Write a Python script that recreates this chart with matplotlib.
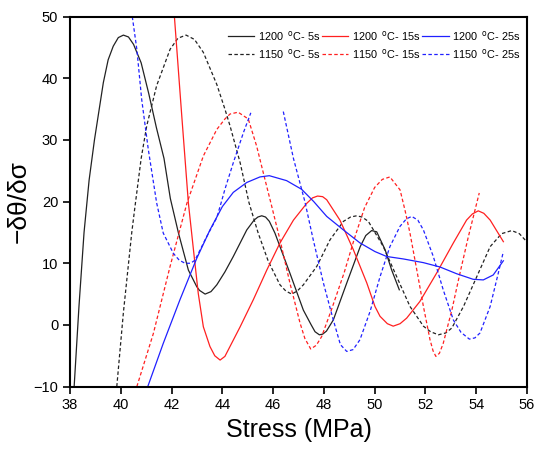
import numpy as np
import matplotlib
matplotlib.use("Agg")
import matplotlib.pyplot as plt

plt.rcParams['font.family'] = ['Liberation Sans', 'DejaVu Sans']

# ---- data ----
x_1200_5 = [38.16, 38.35, 38.55, 38.75, 38.96, 39.31, 39.5, 39.7, 39.9, 40.1, 40.3, 40.5, 40.8, 41.1,
            41.4, 41.7, 41.95, 42.27, 42.66, 42.99, 43.1, 43.32, 43.55, 43.78, 44.1, 44.43, 44.96,
            45.25, 45.4, 45.55, 45.7, 45.85, 46.07, 46.66, 47.19, 47.5, 47.65, 47.82, 47.95, 48.1,
            48.37, 48.9, 49.43, 49.65, 49.88, 50.08, 50.41, 50.67, 50.97]
y_1200_5 = [-10, 3, 15, 23.5, 30, 39.3, 43.0, 45.2, 46.6, 47.0, 46.7, 45.5, 42.5, 37.5,
            32.0, 27.0, 20.5, 14.9, 8.9, 6.2, 5.6, 5.0, 5.4, 6.5, 8.6, 11.1, 15.4,
            17.0, 17.5, 17.7, 17.5, 16.8, 14.9, 8.4, 2.4, 0.0, -1.1, -1.6, -1.5, -1.0,
            0.8, 6.8, 12.7, 14.5, 15.3, 15.1, 12.2, 8.9, 5.7]

x_1150_5 = [39.84, 40.1, 40.43, 40.56, 40.8, 41.02, 41.41, 41.94, 42.25, 42.57, 42.9, 43.25, 43.78,
            44.1, 44.3, 44.7, 45.05, 45.41, 45.81, 46.27, 46.5, 46.73, 46.95, 47.19, 47.72, 48.24,
            48.77, 49.05, 49.29, 49.5, 49.75, 50.34, 50.87, 51.39, 51.92, 52.2, 52.51, 52.8, 53.04,
            53.5, 54.02, 54.55, 55.0, 55.4, 55.7, 55.99]
y_1150_5 = [-10, 2, 15, 19.3, 27, 32.3, 38.8, 44.7, 46.5, 47.0, 46.3, 44.2, 39.0,
            35.0, 32.3, 26.3, 19.8, 14.9, 10.3, 6.5, 5.5, 5.0, 5.5, 6.5, 9.5, 13.8,
            16.8, 17.5, 17.7, 17.5, 16.8, 12.7, 7.8, 3.0, -0.2, -1.1, -1.6, -1.3, -0.5,
            3.0, 7.8, 12.7, 14.8, 15.3, 14.8, 13.5]

x_1200_15 = [42.11, 42.4, 42.66, 42.86, 43.05, 43.25, 43.51, 43.7, 43.91, 44.1, 44.3, 44.7, 45.22,
             45.75, 46.27, 46.8, 47.32, 47.55, 47.75, 47.95, 48.11, 48.63, 49.16, 49.69, 50.01,
             50.21, 50.5, 50.73, 51.0, 51.26, 51.78, 52.44, 53.1, 53.62, 53.85, 54.08, 54.3, 54.55,
             55.07]
y_1200_15 = [50, 33.9, 19.8, 12.2, 5.1, -0.3, -3.5, -5.0, -5.7, -5.1, -3.5, -0.3, 4.1,
             8.9, 13.3, 17.0, 19.7, 20.6, 20.9, 20.8, 20.3, 17.0, 12.2, 6.8, 3.0,
             1.4, 0.2, -0.2, 0.2, 1.1, 3.8, 8.4, 13.3, 17.0, 18.0, 18.5, 18.1, 17.0,
             13.5]

x_1150_15 = [40.63, 41.28, 41.94, 42.6, 43.25, 43.78, 44.1, 44.3, 44.62, 45.02, 45.35, 45.61, 45.94,
             46.27, 46.66, 47.06, 47.25, 47.48, 47.7, 47.91, 48.3, 48.8, 49.2, 49.6, 50.0, 50.3,
             50.6, 51.0, 51.2, 51.39, 51.66, 51.92, 52.18, 52.3, 52.41, 52.55, 52.7, 53.04, 53.36,
             53.69, 54.12]
y_1150_15 = [-10, -1.4, 9.5, 19.7, 27.4, 31.7, 33.4, 34.2, 34.5, 33.4, 29.0, 24.7, 19.3,
             13.8, 6.8, 0.3, -2.2, -3.9, -3.3, -1.9, 2.5, 8.5, 14.0, 19.0, 22.3, 23.6,
             24.0, 21.9, 18.5, 14.9, 8.9, 3.0, -2.4, -4.2, -5.1, -4.6, -3.0, 2.4, 8.4,
             14.3, 21.4]

x_1200_25 = [41.06, 41.67, 42.33, 42.99, 43.51, 44.0, 44.43, 44.96, 45.48, 45.85, 46.53, 47.12, 47.6,
             48.11, 48.77, 49.42, 50.01, 50.47, 51.13, 51.92, 52.57, 53.23, 53.88, 54.28, 54.67, 55.07]
y_1200_25 = [-10, -3.0, 4.1, 10.8, 15.4, 19.2, 21.5, 23.1, 24.0, 24.2, 23.4, 22.0, 20.0,
             17.6, 15.4, 13.3, 11.9, 11.1, 10.7, 10.1, 9.4, 8.3, 7.4, 7.3, 8.1, 10.4]

x_1150_25a = [40.45, 40.63, 40.82, 41.08, 41.41, 41.67, 42.07, 42.3, 42.53, 42.75, 42.92, 43.38, 43.78,
              43.95, 44.1, 44.43, 44.83, 45.12]
y_1150_25a = [50, 44.7, 36.6, 28.5, 19.8, 14.9, 11.6, 10.5, 10.0, 10.0, 10.5, 14.3, 17.4,
              19.8, 22.0, 26.3, 31.2, 34.4]
x_1150_25b = [46.4, 46.8, 47.25, 47.58, 47.98, 48.37, 48.65, 48.9, 49.15, 49.42, 49.82, 50.21, 50.6,
              51.0, 51.25, 51.46, 51.7, 51.92, 52.31, 52.7, 53.1, 53.4, 53.73, 53.95, 54.15, 54.55,
              54.87, 55.07]
y_1150_25b = [34.6, 27.0, 20.0, 13.8, 6.8, 0.8, -3.2, -4.3, -4.0, -2.4, 2.2, 7.8, 12.7,
              16.0, 17.2, 17.6, 17.0, 15.4, 11.1, 5.7, 0.8, -1.2, -2.3, -2.1, -1.3, 3.0,
              8.4, 11.9]

labels = ["1200 $\\,^{\\mathrm{o}}$C- 5s", "1150 $\\,^{\\mathrm{o}}$C- 5s",
          "1200 $\\,^{\\mathrm{o}}$C- 15s", "1150 $\\,^{\\mathrm{o}}$C- 15s",
          "1200 $\\,^{\\mathrm{o}}$C- 25s", "1150 $\\,^{\\mathrm{o}}$C- 25s"]
x_ticks = [38, 40, 42, 44, 46, 48, 50, 52, 54, 56]
y_ticks = [-10, 0, 10, 20, 30, 40, 50]

# ---- drawing ----
fig = plt.figure(figsize=(5.35, 4.49), dpi=100)
ax = fig.add_axes([0.131, 0.139, 0.854, 0.824])

lw = 0.9
dash = (0, (2.8, 1.9))
c_k, c_r, c_b = '#222222', '#ff2020', '#2020ff'

ax.plot(x_1200_5, y_1200_5, color=c_k, lw=lw, label=labels[0])
ax.plot(x_1150_5, y_1150_5, color=c_k, lw=lw, ls=dash, label=labels[1])
ax.plot(x_1200_15, y_1200_15, color=c_r, lw=lw, label=labels[2])
ax.plot(x_1150_15, y_1150_15, color=c_r, lw=lw, ls=dash, label=labels[3])
ax.plot(x_1200_25, y_1200_25, color=c_b, lw=lw, label=labels[4])
ax.plot(x_1150_25a, y_1150_25a, color=c_b, lw=lw, ls=dash, label=labels[5])
ax.plot(x_1150_25b, y_1150_25b, color=c_b, lw=lw, ls=dash)

ax.set_xlim(38, 56)
ax.set_ylim(-10, 50)
ax.set_xticks(x_ticks)
ax.set_yticks(y_ticks)
ax.tick_params(direction='out', length=5, width=1.2, labelsize=10.5, top=False, right=False)
for s in ax.spines.values():
    s.set_linewidth(1.5)

ax.set_xlabel("Stress (MPa)", fontsize=18, labelpad=4)
ax.set_ylabel("\u2212\u03b4\u03b8/\u03b4\u03c3", fontsize=19, labelpad=2)

leg = ax.legend(loc='upper right', ncol=3, frameon=False, fontsize=7.9,
                handlelength=2.4, handletextpad=0.3, columnspacing=0.2,
                labelspacing=0.35, bbox_to_anchor=(1.0, 0.985), borderaxespad=0.2)

fig.savefig("out.png", dpi=100)
